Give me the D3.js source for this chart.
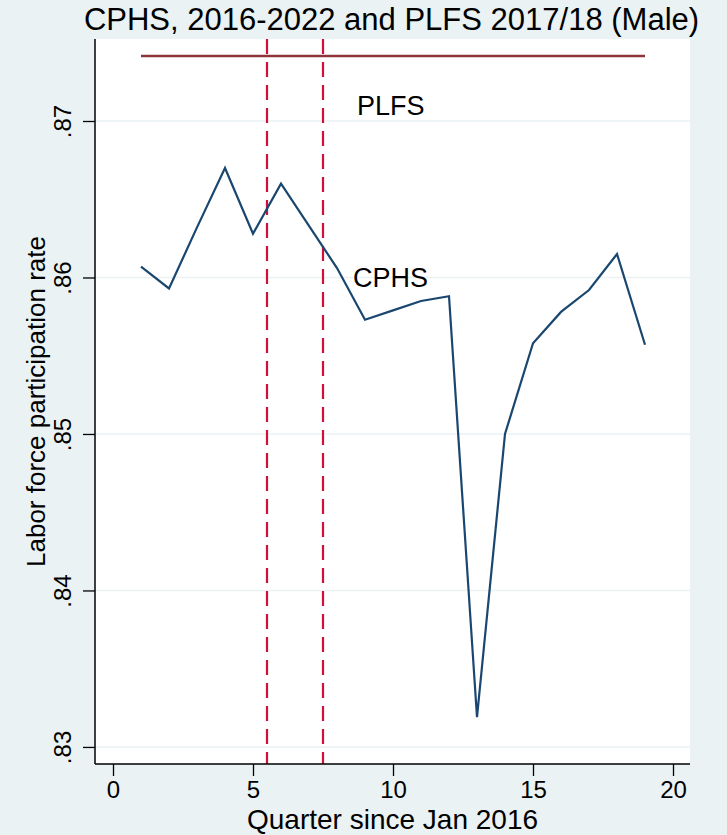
<!DOCTYPE html>
<html>
<head>
<meta charset="utf-8">
<script src="https://cdn.jsdelivr.net/npm/d3@7"></script>
<style>
  html, body { margin: 0; padding: 0; background: #eaf2f3; }
  svg { display: block; }
  text { font-family: "Liberation Sans", Arial, Helvetica, sans-serif; fill: #000; }
</style>
</head>
<body>
<svg id="chart" width="727" height="835"></svg>
<script>
// ---- data ----
const quarters = [1, 2, 3, 4, 5, 6, 7, 8, 9, 10, 11, 12, 13, 14, 15, 16, 17, 18, 19];
const cphsValues = [0.8607, 0.8593, 0.8632, 0.8670, 0.8628, 0.8660, 0.8633, 0.8606, 0.8573, 0.8579,
                    0.8585, 0.8588, 0.8319, 0.8500, 0.8558, 0.8578, 0.8592, 0.8615, 0.8557];
const plfsValue = 0.87415;
const plfsRange = [1, 19];
const vlines = [5.5, 7.5];
const xTicks = [0, 5, 10, 15, 20];
const yTicks = [0.83, 0.84, 0.85, 0.86, 0.87];
const yTickLabels = [".83", ".84", ".85", ".86", ".87"];
const titleText = "CPHS, 2016-2022 and PLFS 2017/18 (Male)";
const xTitle = "Quarter since Jan 2016";
const yTitle = "Labor force participation rate";
const seriesLabels = [
  { name: "PLFS", x: 8.71, y: 0.87038 },
  { name: "CPHS", x: 8.57, y: 0.85939 }
];

// ---- layout ----
const W = 727, H = 835;
const plot = { left: 95, right: 690, top: 39, bottom: 764 };

const svg = d3.select("#chart");
svg.append("rect").attr("width", W).attr("height", H).attr("fill", "#eaf2f3");
svg.append("rect")
  .attr("x", plot.left).attr("y", plot.top)
  .attr("width", plot.right - plot.left).attr("height", plot.bottom - plot.top)
  .attr("fill", "#ffffff");

const x = d3.scaleLinear().domain([-0.643, 20.607]).range([plot.left, plot.right]);
const y = d3.scaleLinear().domain([0.82891, 0.87524]).range([plot.bottom, plot.top]);

// gridlines
svg.append("g").selectAll("line").data(yTicks).join("line")
  .attr("x1", plot.left).attr("x2", plot.right)
  .attr("y1", d => y(d)).attr("y2", d => y(d))
  .attr("stroke", "#eaf2f3").attr("stroke-width", 1.5);

// PLFS horizontal line
svg.append("line")
  .attr("x1", x(plfsRange[0])).attr("x2", x(plfsRange[1]))
  .attr("y1", y(plfsValue)).attr("y2", y(plfsValue))
  .attr("stroke", "#90353b").attr("stroke-width", 2.5);

// vertical dashed lines
svg.append("g").selectAll("line").data(vlines).join("line")
  .attr("x1", d => x(d)).attr("x2", d => x(d))
  .attr("y1", plot.top).attr("y2", plot.bottom)
  .attr("stroke", "#d0103a").attr("stroke-width", 2.2)
  .attr("stroke-dasharray", "15,8");

// CPHS line
const lineGen = d3.line().x(d => x(d[0])).y(d => y(d[1]));
svg.append("path")
  .datum(quarters.map((q, i) => [q, cphsValues[i]]))
  .attr("d", lineGen)
  .attr("fill", "none")
  .attr("stroke", "#1a476f").attr("stroke-width", 2.2)
  .attr("stroke-linejoin", "miter");

// series labels
svg.append("g").selectAll("text").data(seriesLabels).join("text")
  .attr("x", d => x(d.x)).attr("y", d => y(d.y))
  .attr("font-size", 27)
  .text(d => d.name);

// x axis
const xAxis = d3.axisBottom(x).tickValues(xTicks).tickSize(12).tickPadding(6).tickFormat(d3.format("d"));
const gx = svg.append("g").attr("transform", `translate(0,${plot.bottom})`).call(xAxis);
gx.select(".domain").attr("d", `M${plot.left},0H${plot.right}`).attr("stroke", "#000").attr("stroke-width", 1.5);
gx.selectAll(".tick line").attr("stroke", "#000").attr("stroke-width", 1.3);
gx.selectAll(".tick text").attr("font-size", 24).attr("font-family", "Liberation Sans, Arial, sans-serif")
  .attr("fill", "#000").attr("dy", null).attr("y", 34);

// y axis
const yAxis = d3.axisLeft(y).tickValues(yTicks).tickSize(12).tickFormat((d, i) => yTickLabels[i]);
const gy = svg.append("g").attr("transform", `translate(${plot.left},0)`).call(yAxis);
gy.select(".domain").attr("d", `M0,${plot.top}V${plot.bottom}`).attr("stroke", "#000").attr("stroke-width", 1.5);
gy.selectAll(".tick line").attr("stroke", "#000").attr("stroke-width", 1.3);
gy.selectAll(".tick text")
  .attr("font-size", 24).attr("font-family", "Liberation Sans, Arial, sans-serif").attr("fill", "#000")
  .attr("x", null).attr("dy", null)
  .attr("text-anchor", "middle")
  .attr("transform", "translate(-24,0) rotate(-90)");

// title
svg.append("text")
  .attr("x", (plot.left + plot.right) / 2 - 1).attr("y", 30)
  .attr("text-anchor", "middle").attr("font-size", 31)
  .text(titleText);

// x title
svg.append("text")
  .attr("x", (plot.left + plot.right) / 2).attr("y", 829)
  .attr("text-anchor", "middle").attr("font-size", 28)
  .text(xTitle);

// y title
svg.append("text")
  .attr("transform", `translate(45,${(plot.top + plot.bottom) / 2}) rotate(-90)`)
  .attr("text-anchor", "middle").attr("font-size", 26)
  .text(yTitle);
</script>
</body>
</html>
